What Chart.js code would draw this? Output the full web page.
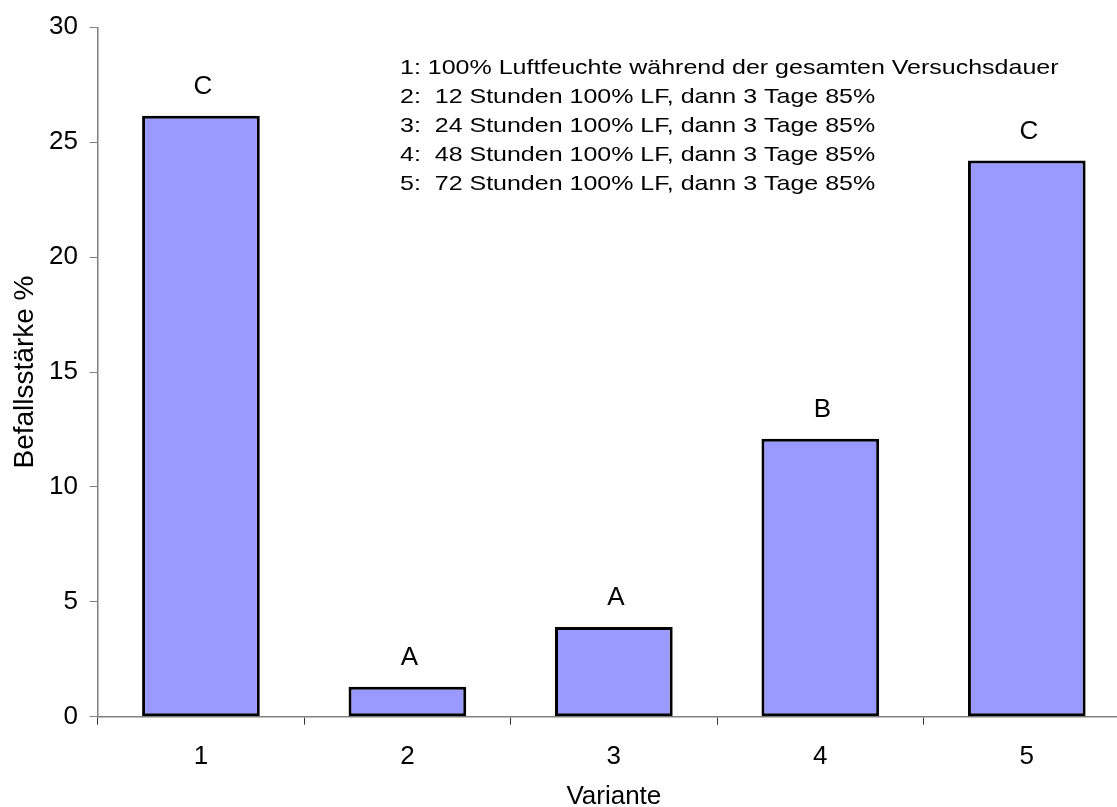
<!DOCTYPE html>
<html><head><meta charset="utf-8">
<script src="https://cdn.jsdelivr.net/npm/chart.js@4.4.1/dist/chart.umd.min.js"></script>
<style>html,body{margin:0;padding:0;background:#fff;overflow:hidden;width:1117px;height:807px}canvas{display:block}</style>
</head><body><canvas id="c" width="1140" height="807"></canvas>
<script>
// ---- data ----
const categories = ['1', '2', '3', '4', '5'];
const values = [26.15, 1.3, 3.9, 12.1, 24.2];
const groupLetters = ['C', 'A', 'A', 'B', 'C'];
const yTicks = [0, 5, 10, 15, 20, 25, 30];
const noteLines = [
  '1: 100% Luftfeuchte während der gesamten Versuchsdauer',
  '2:  12 Stunden 100% LF, dann 3 Tage 85%',
  '3:  24 Stunden 100% LF, dann 3 Tage 85%',
  '4:  48 Stunden 100% LF, dann 3 Tage 85%',
  '5:  72 Stunden 100% LF, dann 3 Tage 85%'
];
const yTitle = 'Befallsstärke %';
const xTitle = 'Variante';

// ---- styling ----
const FONT = '"Liberation Sans", Arial, Helvetica, sans-serif';

const letterPlugin = {
  id: 'letters',
  afterDatasetsDraw(chart) {
    const ctx = chart.ctx;
    const meta = chart.getDatasetMeta(0);
    ctx.save();
    ctx.font = '26px ' + FONT;
    ctx.fillStyle = '#000';
    ctx.textAlign = 'center';
    ctx.textBaseline = 'middle';
    meta.data.forEach((bar, i) => {
      ctx.fillText(groupLetters[i], bar.x + 2, bar.y - 29);
    });
    ctx.restore();
  }
};

const notesPlugin = {
  id: 'notes',
  afterDraw(chart) {
    const ctx = chart.ctx;
    ctx.save();
    ctx.font = '21px ' + FONT;
    ctx.fillStyle = '#000';
    ctx.textAlign = 'left';
    ctx.textBaseline = 'middle';
    noteLines.forEach((t, i) => {
      ctx.save();
      ctx.translate(400, 68 + i * 29);
      ctx.scale(1.19, 1);
      ctx.fillText(t, 0, 0);
      ctx.restore();
    });
    ctx.restore();
  }
};

new Chart(document.getElementById('c'), {
  type: 'bar',
  data: {
    labels: categories,
    datasets: [{
      data: values,
      backgroundColor: '#9999FF',
      borderColor: '#000000',
      borderWidth: 3,
      borderSkipped: false,
      barPercentage: 0.57,
      categoryPercentage: 1.0
    }]
  },
  options: {
    responsive: false,
    animation: false,
    devicePixelRatio: 1,
    layout: { padding: { left: 0, top: 12, right: 10, bottom: 0 } },
    plugins: { legend: { display: false }, tooltip: { enabled: false } },
    scales: {
      x: {
        offset: true,
        grid: { display: true, drawOnChartArea: false, offset: true, tickLength: 8, tickColor: '#333', lineWidth: 1 },
        border: { display: true, color: '#808080', width: 1.5 },
        ticks: { color: '#000', font: { family: FONT, size: 26 }, padding: 16.7, maxRotation: 0 },
        title: { display: true, text: xTitle, color: '#000', font: { family: FONT, size: 26, lineHeight: 0.75 }, padding: 0 },
        afterFit(scale) { scale.height = 90.3; }
      },
      y: {
        min: 0, max: 30,
        afterBuildTicks(scale) { scale.ticks = yTicks.map(v => ({ value: v })); },
        grid: { display: true, drawOnChartArea: false, tickLength: 8, tickColor: '#808080', lineWidth: 1 },
        border: { display: true, color: '#808080', width: 1.5 },
        ticks: { color: '#000', font: { family: FONT, size: 26 }, padding: 11.7 },
        title: { display: true, text: yTitle, color: '#000', font: { family: FONT, size: 28 }, padding: { top: 8.5, bottom: 0 } },
        afterFit(scale) { scale.width = 97.7; }
      }
    }
  },
  plugins: [letterPlugin, notesPlugin]
});
</script>
</body></html>
